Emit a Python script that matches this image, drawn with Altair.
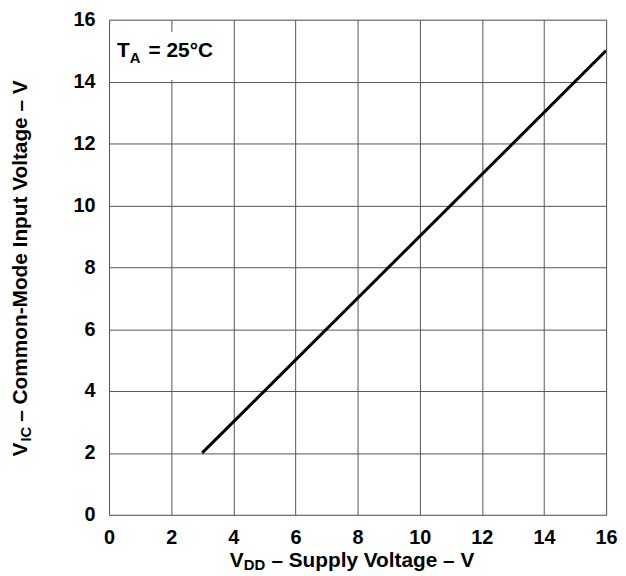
import altair as alt
import pandas as pd

# Data
vdd = [3, 16]          # supply voltage, V
vic = [2, 15]          # common-mode input voltage, V
x_ticks = [0, 2, 4, 6, 8, 10, 12, 14, 16]
y_ticks = [0, 2, 4, 6, 8, 10, 12, 14, 16]

FONT = "Liberation Sans"
W, H = 502, 500
LBL = 20
TTL = 21

line_df = pd.DataFrame({"vdd": vdd, "vic": vic})

xscale = alt.Scale(domain=[0, 16], nice=False, zero=False)
yscale = alt.Scale(domain=[0, 16], nice=False, zero=False)

line = alt.Chart(line_df).mark_line(color="black", strokeWidth=3, clip=True).encode(
    x=alt.X("vdd:Q", scale=xscale,
            axis=alt.Axis(values=x_ticks, title=None, grid=True, gridColor="#555555",
                          gridWidth=1, ticks=False, tickSize=0, domain=False,
                          labelFont=FONT, labelFontSize=LBL, labelFontWeight="bold",
                          labelColor="black", labelPadding=13, labelFlush=False)),
    y=alt.Y("vic:Q", scale=yscale,
            axis=alt.Axis(values=y_ticks, title=None, grid=True, gridColor="#555555",
                          gridWidth=1, ticks=False, tickSize=0, domain=False,
                          labelFont=FONT, labelFontSize=LBL, labelFontWeight="bold",
                          labelColor="black", labelPadding=14, labelFlush=False)),
)

# white box behind the temperature annotation
box_df = pd.DataFrame({"x0": [0.05], "x1": [3.95], "y0": [14.05], "y1": [15.6]})
box = alt.Chart(box_df).mark_rect(color="white").encode(
    x=alt.X("x0:Q", scale=xscale), x2="x1:Q",
    y=alt.Y("y0:Q", scale=yscale), y2="y1:Q",
)

def txt(s, x, y, size=TTL, angle=0):
    return alt.Chart(pd.DataFrame({"t": [s]})).mark_text(
        font=FONT, fontSize=size, fontWeight="bold", color="black",
        align="left", baseline="alphabetic", angle=angle,
    ).encode(x=alt.value(x), y=alt.value(y), text="t:N")

texts = [
    # annotation T_A = 25°C
    txt("T", 8, 38),
    txt("A", 21, 44, size=15),
    txt("= 25°C", 40, 38),
    # x title
    txt("V", 122, 553),
    txt("DD", 136, 556, size=15),
    txt("– Supply Voltage – V", 164, 553),
    # y title
    txt("V", -83, 441, angle=270),
    txt("IC", -79, 426, angle=270, size=15),
    txt("– Common-Mode Input Voltage – V", -83, 406, angle=270),
]

chart = alt.layer(box, line, *texts).properties(
    width=W, height=H,
    autosize=alt.AutoSizeParams(type="none"),
    padding={"left": 102, "top": 9, "right": 12, "bottom": 59},
).configure_view(stroke="black", strokeWidth=2.5).configure(background="white")

chart.save("out.html", embed_options={"renderer": "svg", "actions": False})
